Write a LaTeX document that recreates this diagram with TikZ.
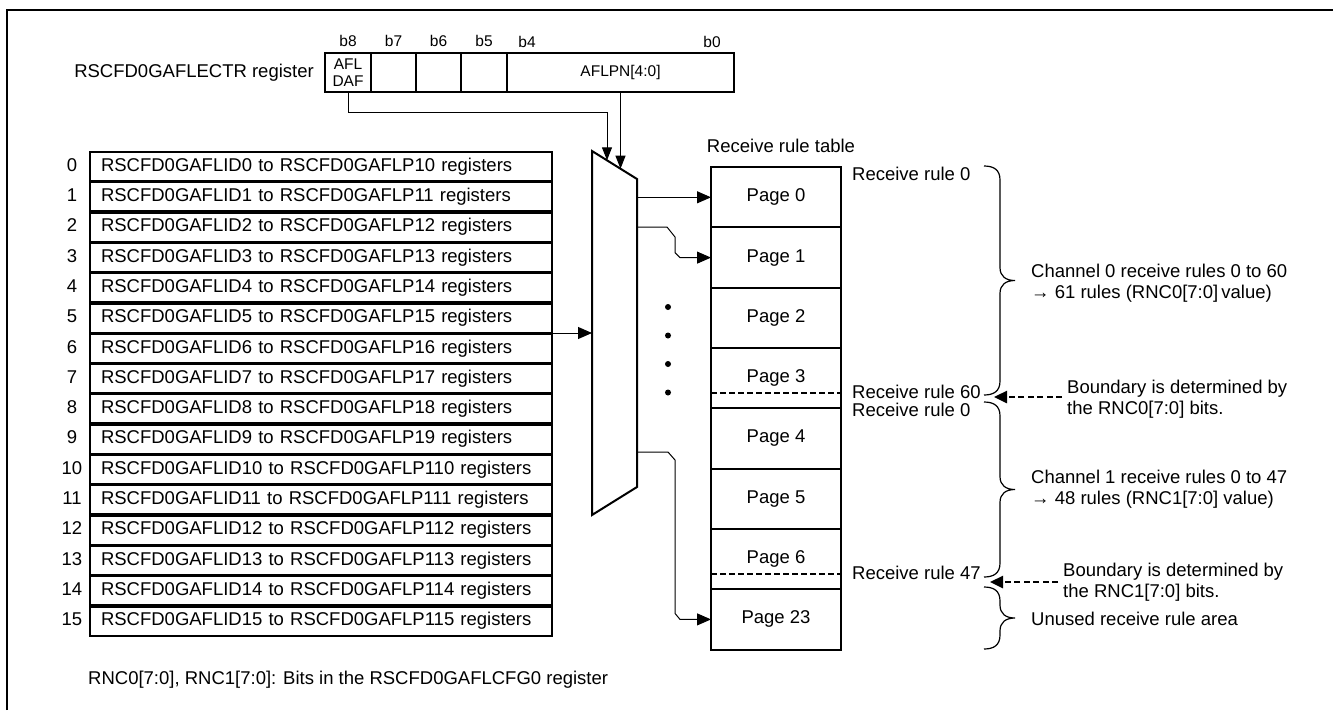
\documentclass[tikz,border=0pt]{standalone}
\usepackage{fontspec}
\setmainfont{Liberation Sans}
\usepackage{tikz}
\usetikzlibrary{arrows.meta, positioning}
\newcommand{\basefs}{\fontsize{18.5}{21.5}\selectfont}
\newcommand{\bitfs}{\fontsize{15.5}{19.5}\selectfont}
\newcommand{\rulebrace}[3]{%
  \pgfmathsetmacro{\brmid}{(#2+#3)/2}%
  \draw[bracepen] (#1,#2) .. controls (#1+10,#2) and (#1+16,#2+4) .. (#1+16,#2+14)
    -- (#1+16,\brmid-13) .. controls (#1+16,\brmid-4) and (#1+22,\brmid) .. (#1+31,\brmid)
    .. controls (#1+22,\brmid) and (#1+16,\brmid+4) .. (#1+16,\brmid+13)
    -- (#1+16,#3-14) .. controls (#1+16,#3-4) and (#1+10,#3) .. (#1,#3);}
\tikzset{
  txt/.style={inner sep=0pt, font=\basefs},
  regrow/.style={rectangle, draw, line width=2pt, minimum height=29pt,
    text width=440pt, inner xsep=11pt, inner ysep=0pt, outer sep=0pt,
    align=left, font=\basefs},
  regcell/.style={rectangle, draw, line width=2pt, minimum height=39pt,
    inner sep=0pt, outer sep=0pt, align=center, font=\bitfs},
  bitlbl/.style={inner sep=0pt, font=\bitfs},
  pagebox/.style={rectangle, draw, line width=2pt, minimum width=130pt,
    minimum height=60.3pt, inner sep=0pt, outer sep=0pt, font=\basefs},
  limitline/.style={line width=2pt, dash pattern=on 6pt off 3pt},
  muxpen/.style={line width=2pt, line join=miter},
  wire/.style={line width=1pt},
  wirearrow/.style={line width=1pt, -{Triangle[length=14pt, width=12pt]}},
  selarrow/.style={line width=1pt, -{Triangle[length=13pt, width=10pt]}},
  bndarrow/.style={line width=2.5pt, dash pattern=on 6pt off 3.5pt,
    -{Triangle[length=13pt, width=12pt]}},
  bracepen/.style={line width=1.2pt},
  framepen/.style={line width=2pt}
}

\begin{document}
\begin{tikzpicture}[x=1pt, y=-1pt, node distance=0pt]
  \useasboundingbox (0,0) rectangle (1333,710);
  \draw[framepen] (7,710) -- (7,10) -- (1333,10);

  % register with the page pointer
  \node[regcell, minimum width=46pt] (bit8) at (348,72.5) {AFL\\[-2pt]DAF};
  \node[regcell, minimum width=45pt, right=of bit8] (bit7) {};
  \node[regcell, minimum width=45pt, right=of bit7] (bit6) {};
  \node[regcell, minimum width=46pt, right=of bit6] (bit5) {};
  \node[regcell, minimum width=227pt, right=of bit5] (aflpn) {AFLPN[4:0]};
  \node[txt, left=11pt of bit8] (regname) {RSCFD0GAFLECTR register};
  \foreach \b in {8,7,6,5}
    \node[bitlbl, above=6pt of bit\b] (lb\b) {b\b};
  \node[bitlbl] (lb4) at ([xshift=20pt, yshift=11pt]aflpn.north west) {b4};
  \node[bitlbl] (lb0) at ([xshift=-22pt, yshift=11pt]aflpn.north east) {b0};

  % list of rule registers
  \foreach \i in {0,...,15} {
    \node[regrow] (row\i) at (321,{166.5+30.3*\i}) {RSCFD0GAFLID\i{} to RSCFD0GAFLP1\i{} registers};
    \node[txt, anchor=base] (idx\i) at ([xshift=-18pt]row\i.base west) {\i};
  }

  % selector
  \coordinate (muxTL) at (592,151);
  \coordinate (muxTR) at (637,179);
  \coordinate (muxBR) at (637,487);
  \coordinate (muxBL) at (592,515);
  \draw[muxpen] (muxTL) -- (muxTR) -- (muxBR) -- (muxBL) -- cycle;
  \coordinate (mux-s0) at (607,160.3);
  \coordinate (mux-s1) at (620.5,168.7);
  \coordinate (mux-in) at (592,333);
  \coordinate (mux-o1) at (637,227);
  \coordinate (mux-o23) at (637,452);

  % receive rule table
  \node[pagebox] (pg0) at (776,197.3) {Page 0};
  \foreach \p/\q in {1/0,2/1,3/2,4/3,5/4,6/5,23/6}
    \node[pagebox, below=of pg\q] (pg\p) {Page \p};
  \draw[limitline] ([yshift=15pt]pg3.south west) -- ([yshift=15pt]pg3.south east);
  \draw[limitline] ([yshift=15pt]pg6.south west) -- ([yshift=15pt]pg6.south east);
  \node[txt, above=14pt of pg0.north, xshift=5pt] (tbltitle) {Receive rule table};

  \draw[selarrow] (bit8.south) -- ++(0,20) -| (mux-s0);
  \draw[selarrow] (aflpn.south) -- (mux-s1);
  \draw[wirearrow] ([yshift=-15pt]row5.east) -- (mux-in);
  \draw[wirearrow] (muxTR |- pg0.west) -- (pg0.west);
  \draw[wirearrow] (mux-o1) -- ++(30,0) -- ++(8,10)
    -- ([xshift=-36pt, yshift=5pt]pg1.west) -- ([xshift=-31pt]pg1.west) -- (pg1.west);
  \draw[wirearrow] (mux-o23) -- ++(31,0) -- ++(7,8)
    -- ([xshift=-36pt, yshift=6pt]pg23.west) -- ([xshift=-31pt]pg23.west) -- (pg23.west);
  \foreach \d in {307,335.5,364,392.5}
    \fill (668,\d) circle (3pt);

  % rule numbers and ranges
  \node[txt, anchor=west] (rr0a) at (852,174) {Receive rule 0};
  \node[txt, anchor=west] (rr60) at (852,392) {Receive rule 60};
  \node[txt, anchor=west] (rr0b) at (852,410) {Receive rule 0};
  \node[txt, anchor=west] (rr47) at (852,573) {Receive rule 47};
  \rulebrace{984}{166}{395}
  \rulebrace{984}{402}{577}
  \rulebrace{984}{587}{649}
  \node[txt, anchor=west, align=left] (ch0) at (1031,283) {Channel 0 receive rules 0 to 60\\→ 61 rules (RNC0[7:0]\,value)};
  \node[txt, anchor=west, align=left] (ch1) at (1031,489) {Channel 1 receive rules 0 to 47\\→ 48 rules (RNC1[7:0] value)};
  \node[txt, anchor=west] (unused) at (1031,619) {Unused receive rule area};
  \node[txt, anchor=west, align=left] (bnd0) at (1067,399) {Boundary is determined by\\the RNC0[7:0] bits.};
  \node[txt, anchor=west, align=left] (bnd1) at (1063,582) {Boundary is determined by\\the RNC1[7:0] bits.};
  \coordinate (tip0) at (994,397);
  \coordinate (tip1) at (990,582);
  \draw[bndarrow] ([xshift=-5pt]bnd0.west |- tip0) -- (tip0);
  \draw[bndarrow] ([xshift=-5pt]bnd1.west |- tip1) -- (tip1);

  \node[txt, anchor=west] (note) at (88,680) {RNC0[7:0], RNC1[7:0]: Bits in the RSCFD0GAFLCFG0 register};
\end{tikzpicture}
\end{document}
